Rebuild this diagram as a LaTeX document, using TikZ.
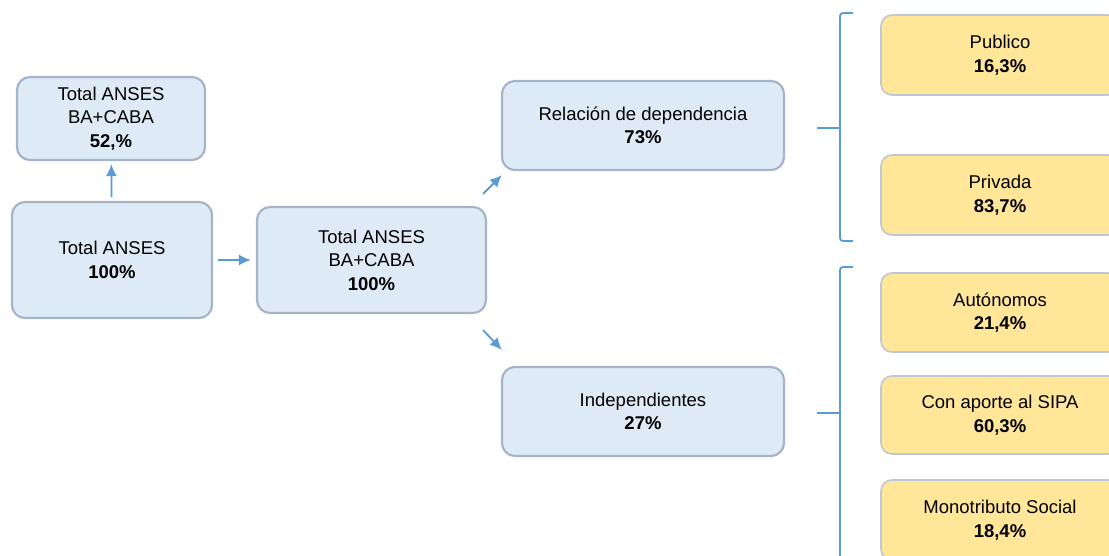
\documentclass[tikz,border=0pt]{standalone}
\usepackage{fontspec}
\setmainfont{Liberation Sans}
\usetikzlibrary{arrows.meta}
\usetikzlibrary{calc}
\usetikzlibrary{positioning}

\definecolor{boxblue}{RGB}{222,235,247}
\definecolor{edgeblue}{RGB}{166,180,200}
\definecolor{boxyellow}{RGB}{255,230,153}
\definecolor{edgeyellow}{RGB}{191,199,213}
\definecolor{linkblue}{RGB}{91,155,213}

\tikzset{
    bluebox/.style={draw=edgeblue, fill=boxblue, line width=2.2pt,
        rounded corners=13pt, align=center, inner sep=0pt,
        font=\fontsize{18.5}{23.5}\selectfont},
    yellowbox/.style={draw=edgeyellow, fill=boxyellow, line width=1.6pt,
        rounded corners=11pt, align=center, inner sep=0pt,
        minimum width=238pt, minimum height=80pt,
        font=\fontsize{18.5}{23.5}\selectfont},
    link/.style={draw=linkblue, line width=1.8pt,
        -{Latex[length=12pt,width=11pt]}},
    bracket/.style={draw=linkblue, line width=1.8pt}
}

\begin{document}
\begin{tikzpicture}[x=1pt, y=-1pt]

    \useasboundingbox (0,0) rectangle (1109,555);

    % left part
    \node[bluebox, minimum width=188pt, minimum height=83pt] (sub) at (111,118.5)
        {Total ANSES\\BA+CABA\\\textbf{52,\%}};
    \node[bluebox, minimum width=200pt, minimum height=116pt] (total) at (112,260)
        {Total ANSES\\\textbf{100\%}};
    \node[bluebox, minimum width=229pt, minimum height=106pt] (region) at (371.5,260)
        {Total ANSES\\BA+CABA\\\textbf{100\%}};

    % middle column
    \node[bluebox, minimum width=282pt, minimum height=89pt] (rel) at (643,125.5)
        {Relación de dependencia\\\textbf{73\%}};
    \node[bluebox, minimum width=282pt, minimum height=89pt] (indep) at (643,411.5)
        {Independientes\\\textbf{27\%}};

    % right column
    \node[yellowbox] (pub) at (1000,55) {Publico\\\textbf{16,3\%}};
    \node[yellowbox] (priv) at (1000,195) {Privada\\\textbf{83,7\%}};
    \node[yellowbox, minimum height=79pt] (auto) at (1000,312.5) {Autónomos\\\textbf{21,4\%}};
    \node[yellowbox, minimum height=78pt] (sipa) at (1000,415) {Con aporte al SIPA\\\textbf{60,3\%}};
    \node[yellowbox] (mono) at (1000,520) {Monotributo Social\\\textbf{18,4\%}};

    % arrows
    \draw[link, shorten <=4pt, shorten >=3pt] (total) -- (sub);
    \draw[link, shorten <=5pt, shorten >=5pt] (total) -- (region);
    \draw[link] ($(region.north east)+(-4,-12)$) -- ($(rel.south west)+(1,4)$);
    \draw[link] ($(region.south east)+(-4,16)$) -- ($(indep.north west)+(1,-16)$);

    % brackets
    \draw[bracket, rounded corners=3pt] (853,13) -- (840,13) -- (840,241) -- (853,241);
    \draw[bracket] (817,128) -- (840,128);
    \draw[bracket, rounded corners=3pt] (853,267) -- (840,267) -- (840,570);
    \draw[bracket] (817,413) -- (840,413);

\end{tikzpicture}
\end{document}
